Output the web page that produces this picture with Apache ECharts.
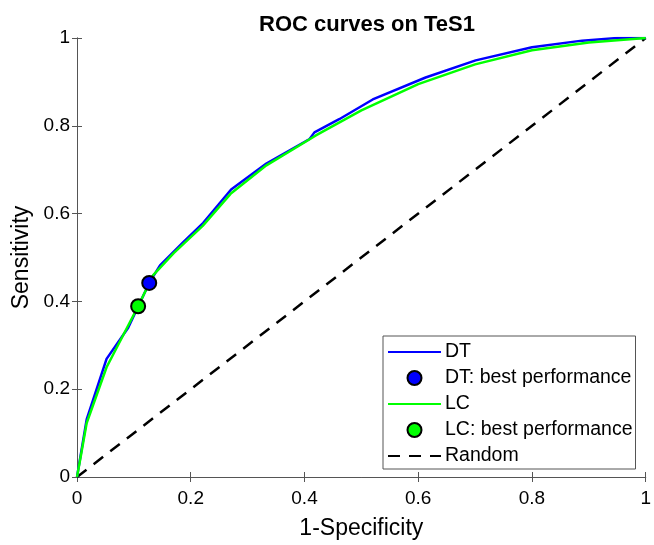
<!DOCTYPE html>
<html><head><meta charset="utf-8">
<script src="https://cdn.jsdelivr.net/npm/echarts@6/dist/echarts.min.js"></script>
<style>html,body{margin:0;padding:0;background:#fff}#c{width:654px;height:545px}</style>
</head><body><div id="c"></div>
<script>
const titleText = 'ROC curves on TeS1';
const xName = '1-Specificity';
const yName = 'Sensitivity';
const tickValues = [0, 0.2, 0.4, 0.6, 0.8, 1];
const dtX = [0, 0.017, 0.052, 0.09, 0.127, 0.146, 0.186, 0.222, 0.271, 0.333, 0.409, 0.4175, 0.461, 0.52, 0.613, 0.701, 0.8, 0.888, 0.95, 1];
const dtY = [0, 0.131, 0.269, 0.34, 0.442, 0.482, 0.534, 0.579, 0.655, 0.714, 0.770, 0.785, 0.815, 0.86, 0.910, 0.949, 0.979, 0.994, 1.0, 1];
const lcX = [0, 0.007, 0.017, 0.052, 0.08, 0.1075, 0.134, 0.17, 0.221, 0.27, 0.333, 0.42, 0.5, 0.6, 0.7, 0.8, 0.9, 1];
const lcY = [0, 0.05, 0.123, 0.25, 0.32, 0.389, 0.46, 0.51, 0.572, 0.645, 0.71, 0.778, 0.835, 0.895, 0.94, 0.972, 0.99, 1];
const dtBest = [0.127, 0.442];
const lcBest = [0.1075, 0.389];
const randomX = [0, 1];
const randomY = [0, 1];

const pairs = (xs, ys) => xs.map((x, i) => [x, ys[i]]);
const FONT = '"Liberation Sans", Arial, Helvetica, sans-serif';
const axisColor = '#555555';
const baseAxis = {
  type: 'value', min: 0, max: 1, interval: 0.2,
  axisLine: {show: true, lineStyle: {color: axisColor, width: 1}},
  axisTick: {show: true, inside: true, length: 5, lineStyle: {color: axisColor}},
  splitLine: {show: false},
};
const fmt = v => String(+v.toFixed(1));
const chart = echarts.init(document.getElementById('c'));
chart.setOption({
  animation: false,
  textStyle: {fontFamily: FONT},
  title: {text: titleText, left: 362, textAlign: 'center', top: 9,
    textStyle: {fontFamily: FONT, fontSize: 22, fontWeight: 'bold', color: '#000'}},
  grid: {left: 77, right: 7, top: 38, bottom: 60},
  xAxis: [
    Object.assign({}, baseAxis, {position: 'bottom', name: xName, nameLocation: 'middle', nameGap: 40,
      nameTextStyle: {fontSize: 23, color: '#000', fontFamily: FONT},
      axisLabel: {fontSize: 19, color: '#000', margin: 12, fontFamily: FONT, formatter: fmt}}),
    Object.assign({}, baseAxis, {position: 'top', axisLabel: {show: false}})
  ],
  yAxis: [
    Object.assign({}, baseAxis, {position: 'left', name: yName, nameLocation: 'middle', nameGap: 43,
      nameTextStyle: {fontSize: 23, color: '#000', fontFamily: FONT},
      axisLabel: {fontSize: 19, color: '#000', margin: 7, fontFamily: FONT, formatter: fmt}}),
    Object.assign({}, baseAxis, {position: 'right', axisLabel: {show: false}})
  ],
  legend: {
    orient: 'vertical', left: 383, top: 336,
    backgroundColor: '#fff', borderColor: axisColor, borderWidth: 1,
    padding: [6, 3, 3, 4], itemGap: 6, itemWidth: 53, itemHeight: 14,
    textStyle: {fontSize: 19.5, lineHeight: 20, color: '#000', fontFamily: FONT, padding: [0, 0, 0, -1]},
    data: [
      {name: 'DT', itemStyle: {opacity: 0}},
      {name: 'DT: best performance', icon: 'circle'},
      {name: 'LC', itemStyle: {opacity: 0}},
      {name: 'LC: best performance', icon: 'circle'},
      {name: 'Random', itemStyle: {opacity: 0}}
    ]
  },
  series: [
    {name: 'Random', type: 'line', data: pairs(randomX, randomY), symbol: 'none',
      lineStyle: {color: '#000', width: 2.5, type: [12, 9]}, itemStyle: {color: '#000'}, z: 2},
    {name: 'DT', type: 'line', data: pairs(dtX, dtY), symbol: 'none',
      lineStyle: {color: '#0000ff', width: 2.5}, itemStyle: {color: '#0000ff'}, z: 3},
    {name: 'LC', type: 'line', data: pairs(lcX, lcY), symbol: 'none',
      lineStyle: {color: '#00ff00', width: 2.5}, itemStyle: {color: '#00ff00'}, z: 4},
    {name: 'DT: best performance', type: 'scatter', data: [dtBest], symbol: 'circle', symbolSize: 14,
      itemStyle: {color: '#0000ff', opacity: 1, borderColor: '#000', borderWidth: 2}, z: 5},
    {name: 'LC: best performance', type: 'scatter', data: [lcBest], symbol: 'circle', symbolSize: 14,
      itemStyle: {color: '#00ff00', opacity: 1, borderColor: '#000', borderWidth: 2}, z: 5}
  ]
});
</script></body></html>
